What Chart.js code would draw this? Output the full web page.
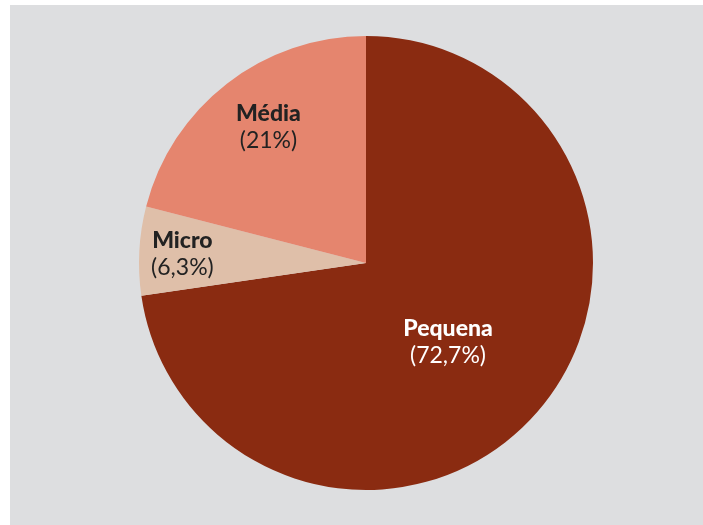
<!DOCTYPE html>
<html>
<head>
<meta charset="utf-8">
<script src="https://cdn.jsdelivr.net/npm/chart.js@4/dist/chart.umd.min.js"></script>
<style>
  html, body { margin: 0; padding: 0; background: #ffffff; }
  #wrap { width: 703px; height: 525px; position: relative; }
</style>
</head>
<body>
<div id="wrap"><canvas id="pieChart"></canvas></div>
<script>
  // dados do gráfico
  const categories = ["Pequena", "Micro", "Média"];
  const shares = [72.7, 6.3, 21];
  const shareLabels = ["(72,7%)", "(6,3%)", "(21%)"];
  const sliceColors = ["#8a2b11", "#dfbfa9", "#e5856e"];

  // fundo cinza atrás do gráfico
  const bgPlugin = {
    id: "bgPlugin",
    beforeDraw(chart) {
      const ctx = chart.ctx;
      ctx.save();
      ctx.fillStyle = "#dddee0";
      ctx.fillRect(10, 5, chart.width - 10, chart.height - 5);
      ctx.restore();
    },
  };

  // rótulos dentro das fatias
  const sliceLabels = {
    id: "sliceLabels",
    afterDatasetsDraw(chart, args, opts) {
      const ctx = chart.ctx;
      const arcs = chart.getDatasetMeta(0).data;
      arcs.forEach((arc, i) => {
        const mid = (arc.startAngle + arc.endAngle) / 2 + (opts.turn[i] || 0);
        const r = arc.outerRadius * opts.dist[i];
        const x = arc.x + Math.cos(mid) * r;
        const y = arc.y + Math.sin(mid) * r;
        ctx.save();
        ctx.fillStyle = opts.colors[i];
        ctx.textAlign = "center";
        ctx.textBaseline = "middle";
        ctx.font = "900 23px Lato";
        ctx.fillText(categories[i], x, y - 13);
        ctx.font = "23px Lato";
        ctx.fillText(shareLabels[i], x, y + 14);
        ctx.restore();
      });
    },
  };

  const pieChart = new Chart(document.getElementById("pieChart").getContext("2d"), {
    type: "pie",
    data: {
      labels: categories,
      datasets: [
        {
          data: shares,
          backgroundColor: sliceColors,
          borderWidth: 0,
        },
      ],
    },
    options: {
      responsive: true,
      maintainAspectRatio: false,
      animation: false,
      layout: {
        padding: { left: 139, right: 110, top: 36, bottom: 35 },
      },
      plugins: {
        legend: { display: false },
        tooltip: { enabled: false },
        sliceLabels: {
          dist: [0.5, 0.81, 0.74],
          turn: [0.05, 0.0, 0.04],
          colors: ["#ffffff", "#222222", "#222222"],
        },
      },
    },
    plugins: [bgPlugin, sliceLabels],
  });
</script>
</body>
</html>
